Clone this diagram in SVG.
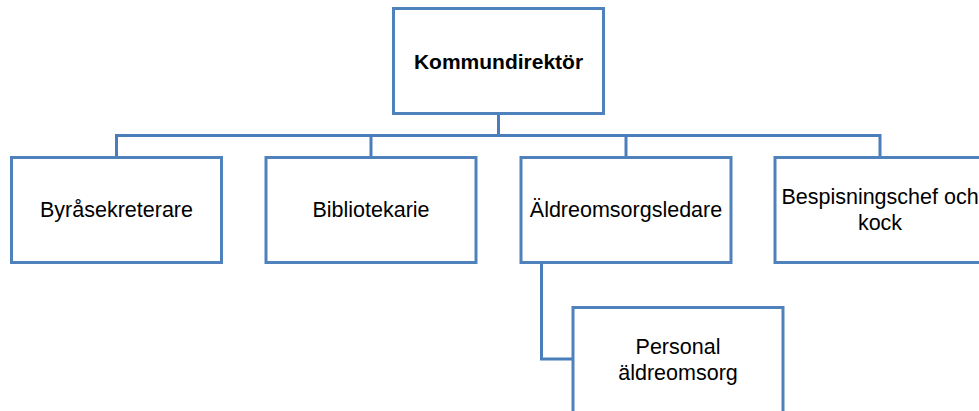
<svg xmlns="http://www.w3.org/2000/svg" width="979" height="411" viewBox="0 0 979 411">
<style>
.box{fill:#ffffff;stroke:#4F81BD;stroke-width:3}
.conn{fill:none;stroke:#4A7EBB;stroke-width:3}
.t{font-family:"Liberation Sans",Arial,sans-serif;font-size:21.5px;fill:#000000;text-anchor:middle}
.b{font-weight:bold;font-size:21px}
</style>
<rect width="979" height="411" fill="#ffffff"/>
<g id="connectors">
<path class="conn" d="M498.5,113.5 V135.5"/>
<path class="conn" d="M116.5,157.5 V135.5 H880 V157.5"/>
<path class="conn" d="M371,135.5 V157.5"/>
<path class="conn" d="M626,135.5 V157.5"/>
<path class="conn" d="M541.5,263 V359 H573"/>
</g>
<g id="kommundirektor">
<rect class="box" x="393.5" y="8.5" width="210" height="105"/>
<text class="t b" x="498.5" y="68.5">Kommundirektör</text>
</g>
<g id="byrasekreterare">
<rect class="box" x="11.5" y="157.5" width="210" height="105"/>
<text class="t" x="116.5" y="217">Byråsekreterare</text>
</g>
<g id="bibliotekarie">
<rect class="box" x="266" y="157.5" width="210" height="105"/>
<text class="t" x="371" y="217">Bibliotekarie</text>
</g>
<g id="aldreomsorgsledare">
<rect class="box" x="521" y="157.5" width="210" height="105"/>
<text class="t" x="626" y="217">Äldreomsorgsledare</text>
</g>
<g id="bespisningschef">
<rect class="box" x="775" y="157.5" width="210" height="105"/>
<text class="t" x="880" y="203.5">Bespisningschef och</text>
<text class="t" x="880" y="230">kock</text>
</g>
<g id="personal">
<rect class="box" x="573" y="307.5" width="210" height="105"/>
<text class="t" x="678" y="353.5">Personal</text>
<text class="t" x="678" y="380">äldreomsorg</text>
</g>
</svg>
